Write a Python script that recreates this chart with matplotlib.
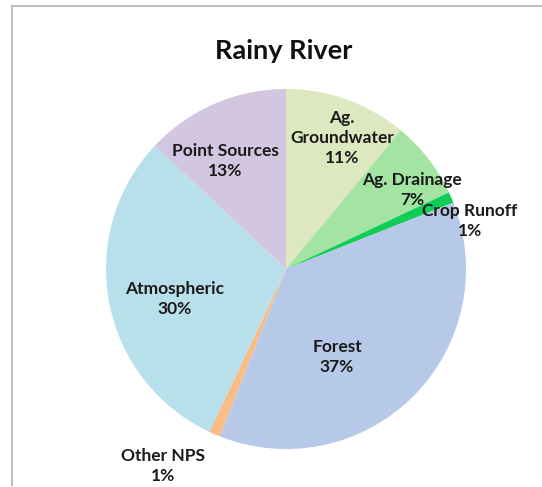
import matplotlib
matplotlib.use("Agg")
import matplotlib.pyplot as plt
from matplotlib.lines import Line2D

# ---- data ----
title = "Rainy River"
categories = ["Ag. Groundwater", "Ag. Drainage", "Crop Runoff", "Forest",
              "Other NPS", "Atmospheric", "Point Sources"]
label_text = ["Ag.\nGroundwater", "Ag. Drainage", "Crop Runoff", "Forest",
              "Other NPS", "Atmospheric", "Point Sources"]
percents = [11, 7, 1, 37, 1, 30, 13]
colors = ["#dde8c0", "#a3e4a3", "#12cc58", "#b6c9e8",
          "#f9bc86", "#b8e0ea", "#d3c6e0"]

# ---- layout (pixels, origin top-left) ----
W, H = 542, 487
center_px = (286, 269)
radius_px = 180
label_pos = [(342, 138), (412, 190), (470, 221), (337, 357),
             (163, 466), (175, 299), (225, 161)]

plt.rcParams['font.family'] = ['Lato', 'DejaVu Sans']
fig = plt.figure(figsize=(W / 100, H / 100), dpi=100)
ax = fig.add_axes([0, 0, 1, 1])
ax.set_xlim(0, W)
ax.set_ylim(0, H)
ax.set_aspect('equal')
ax.axis('off')

ax.pie(percents, colors=colors, startangle=90, counterclock=False,
       center=(center_px[0], H - center_px[1]), radius=radius_px,
       wedgeprops=dict(linewidth=0), frame=False)
ax.set_xlim(0, W)
ax.set_ylim(0, H)

for txt, p, (x, y) in zip(label_text, percents, label_pos):
    ax.text(x, H - y, f"{txt}\n{p}%", ha='center', va='center',
            fontsize=12.5, fontweight='bold', color='#1a1a1a',
            linespacing=1.3)

ax.text(284, H - 59, title, ha='center', va='baseline', fontsize=19.5,
        fontweight='bold', color='#111111')

# frame lines (left and top)
fig.add_artist(Line2D([12 / W, 12 / W], [1 - 6 / H, 1 - 485 / H],
                      transform=fig.transFigure, color='#bfbfbf', lw=1.5))
fig.add_artist(Line2D([12 / W, 1], [1 - 6 / H, 1 - 6 / H],
                      transform=fig.transFigure, color='#bfbfbf', lw=1.5))

fig.savefig("out.png", dpi=100)
